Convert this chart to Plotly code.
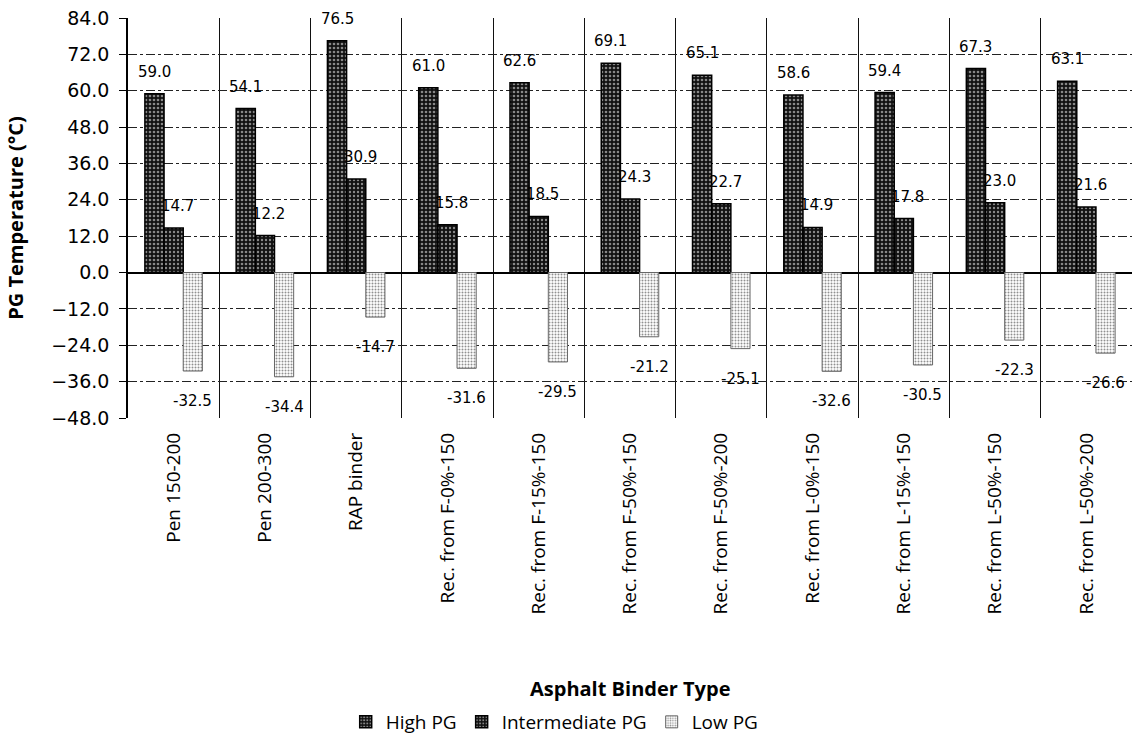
import plotly.graph_objects as go

# Performance-grade temperatures (°C) per asphalt binder type
binder_types = [
    "Pen 150-200", "Pen 200-300", "RAP binder",
    "Rec. from F-0%-150", "Rec. from F-15%-150", "Rec. from F-50%-150",
    "Rec. from F-50%-200", "Rec. from L-0%-150", "Rec. from L-15%-150",
    "Rec. from L-50%-150", "Rec. from L-50%-200",
]
high_pg = [59.0, 54.1, 76.5, 61.0, 62.6, 69.1, 65.1, 58.6, 59.4, 67.3, 63.1]
intermediate_pg = [14.7, 12.2, 30.9, 15.8, 18.5, 24.3, 22.7, 14.9, 17.8, 23.0, 21.6]
low_pg = [-32.5, -34.4, -14.7, -31.6, -29.5, -21.2, -25.1, -32.6, -30.5, -22.3, -26.6]
y_ticks = [84, 72, 60, 48, 36, 24, 12, 0, -12, -24, -36, -48]

BAR_GAP = 0.37
BAR_W = (1 - BAR_GAP) / 3

series = [
    ("High PG", high_pg, dict(color="#111111",
                              pattern=dict(shape=".", fgcolor="white", size=4, solidity=0.35),
                              line=dict(color="black", width=1.5))),
    ("Intermediate PG", intermediate_pg, dict(color="#111111",
                                              pattern=dict(shape=".", fgcolor="white", size=4, solidity=0.28),
                                              line=dict(color="black", width=1.5))),
    ("Low PG", low_pg, dict(color="white",
                            pattern=dict(shape=".", fgcolor="#222222", size=3, solidity=0.35),
                            line=dict(color="#666666", width=1))),
]

fig = go.Figure()
for name, vals, marker in series:
    fig.add_trace(go.Bar(name=name, x=binder_types, y=vals, marker=marker))

# Value labels sitting just beyond the end of each bar
annotations = []
for k, (name, vals, _) in enumerate(series):
    offset = (k - 1) * BAR_W
    for i, v in enumerate(vals):
        annotations.append(dict(
            x=i + offset, y=v, xref="x", yref="y",
            text=f"{v:.1f}", showarrow=False,
            yshift=22 if v >= 0 else -30,
            xshift=4 if k == 1 else 0,
            font=dict(family="DejaVu Sans", size=15, color="black"),
        ))

annotations.append(dict(
    text="<b>Asphalt Binder Type</b>", xref="paper", yref="paper",
    x=0.5, y=-0.675, xanchor="center", yanchor="middle", showarrow=False,
    font=dict(family="Open Sans", size=20, color="black"),
))

fig.update_layout(
    width=1134, height=747,
    margin=dict(l=128, r=2, t=18, b=329),
    paper_bgcolor="white", plot_bgcolor="white",
    barmode="group", bargap=BAR_GAP, bargroupgap=0,
    showlegend=True,
    legend=dict(orientation="h", x=0.425, xanchor="center", y=-0.76, yanchor="middle",
                font=dict(family="Open Sans", size=19, color="black"),
                itemwidth=30, tracegroupgap=0),
    annotations=annotations,
    xaxis=dict(
        type="category", tickson="boundaries", range=[-0.5, 10.5],
        tickangle=-90, ticks="", ticklabelstandoff=10,
        tickfont=dict(family="Open Sans", size=19, color="black"),
        showgrid=True, gridcolor="#111111", gridwidth=1.2,
        showline=False, zeroline=False,
    ),
    yaxis=dict(
        range=[-48, 84], tickvals=y_ticks, tickformat=".1f",
        ticks="outside", ticklen=7, tickcolor="black", ticklabelstandoff=6,
        tickfont=dict(family="DejaVu Sans", size=19, color="black"),
        title=dict(text="<b>PG Temperature (°C)</b>", standoff=22,
                   font=dict(family="Open Sans", size=20, color="black")),
        showgrid=True, gridcolor="#222222", gridwidth=1.2, griddash="dashdot",
        showline=True, linecolor="black", linewidth=1.5,
        zeroline=True, zerolinecolor="black", zerolinewidth=1.5,
    ),
)

fig.write_html("out.html")
